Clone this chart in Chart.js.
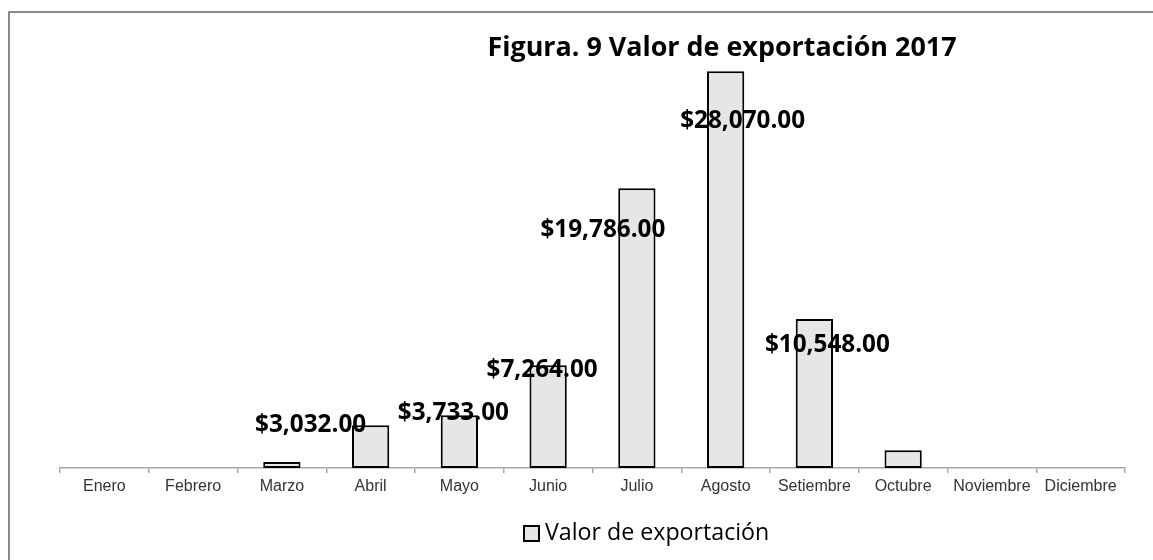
<!DOCTYPE html>
<html lang="es">
<head>
<meta charset="utf-8">
<title>Figura. 9 Valor de exportación 2017</title>
<script src="https://cdn.jsdelivr.net/npm/chart.js@4"></script>
<style>
  html, body { margin: 0; padding: 0; background: #fff; overflow: hidden; }
  #marco {
    position: absolute; left: 8px; top: 11px; width: 1300px; height: 700px;
    border-left: 2px solid #8a8a8a; border-top: 2px solid #8a8a8a;
    pointer-events: none;
  }
  canvas { position: absolute; left: 0; top: 0; }
</style>
</head>
<body>
<canvas id="grafico" width="1153" height="560"></canvas>
<div id="marco"></div>
<script>
// Datos
const meses = ["Enero", "Febrero", "Marzo", "Abril", "Mayo", "Junio", "Julio",
  "Agosto", "Setiembre", "Octubre", "Noviembre", "Diciembre"]
const valorExportacion = [0, 0, 420, 3032, 3733, 7264, 19786, 28070, 10548, 1250, 0, 0]
const conEtiqueta = [false, false, false, true, true, true, true, true, true, false, false, false]
const titulo = "Figura. 9 Valor de exportación 2017"
const nombreSerie = "Valor de exportación"

// desplazamiento de cada etiqueta respecto al tope de la barra (movidas a mano en el original)
const despEtiqueta = [[0, 0], [0, 0], [0, 0], [-60, 0], [-6, -2], [-6, 5], [-34, 42],
  [17, 50], [13, 26], [0, 0], [0, 0], [0, 0]]

const formato = (v) => "$" + v.toLocaleString("en-US", { minimumFractionDigits: 2, maximumFractionDigits: 2 })

// ajusta el tamaño de letra para que el texto ocupe el ancho del original (Calibri no está)
function fuenteAjustada(ctx, texto, peso, ancho) {
  ctx.font = `${peso} 20px "Open Sans"`
  const size = 20 * ancho / ctx.measureText(texto).width
  return `${peso} ${size.toFixed(1)}px "Open Sans"`
}

const rotulos = {
  id: "rotulos",
  afterDatasetsDraw(chart) {
    const { ctx } = chart
    const meta = chart.getDatasetMeta(0)
    ctx.save()
    ctx.fillStyle = "#000"
    ctx.font = fuenteAjustada(ctx, "$3,032.00", "bold", 111)
    ctx.textAlign = "center"
    ctx.textBaseline = "middle"
    meta.data.forEach((barra, i) => {
      if (!conEtiqueta[i]) return
      const [dx, dy] = despEtiqueta[i]
      ctx.fillText(formato(valorExportacion[i]), barra.x + dx, barra.y + dy)
    })

    // título
    ctx.font = fuenteAjustada(ctx, titulo, "bold", 469)
    ctx.fillText(titulo, 722, 48)

    // leyenda
    ctx.fillStyle = "#e6e6e6"
    ctx.strokeStyle = "#000"
    ctx.lineWidth = 2
    ctx.fillRect(524, 526, 15, 15)
    ctx.strokeRect(524, 526, 15, 15)
    ctx.fillStyle = "#000"
    ctx.textAlign = "left"
    ctx.font = fuenteAjustada(ctx, nombreSerie, "normal", 224)
    ctx.fillText(nombreSerie, 545, 533)
    ctx.restore()
  }
}

new Chart(document.getElementById("grafico"), {
  type: "bar",
  data: {
    labels: meses,
    datasets: [{
      label: nombreSerie,
      data: valorExportacion,
      backgroundColor: "#e6e6e6",
      borderColor: "#000",
      borderWidth: 2,
      borderSkipped: false,
      barPercentage: 0.42,
      categoryPercentage: 1
    }]
  },
  options: {
    responsive: false,
    animation: false,
    events: [],
    layout: { padding: { left: 60, right: 28, top: 44, bottom: 62 } },
    plugins: { legend: { display: false }, title: { display: false }, tooltip: { enabled: false } },
    scales: {
      x: {
        afterFit: (s) => { s.height = 30 },
        grid: { drawOnChartArea: false, color: "#a6a6a6", tickLength: 5, lineWidth: 1.5 },
        border: { color: "#a6a6a6", width: 1.5 },
        ticks: { color: "#333", padding: 4, font: { family: '"Liberation Sans", Arial', size: 16 } }
      },
      y: { display: false, min: 0, max: 30000 }
    }
  },
  plugins: [rotulos]
})
</script>
</body>
</html>
